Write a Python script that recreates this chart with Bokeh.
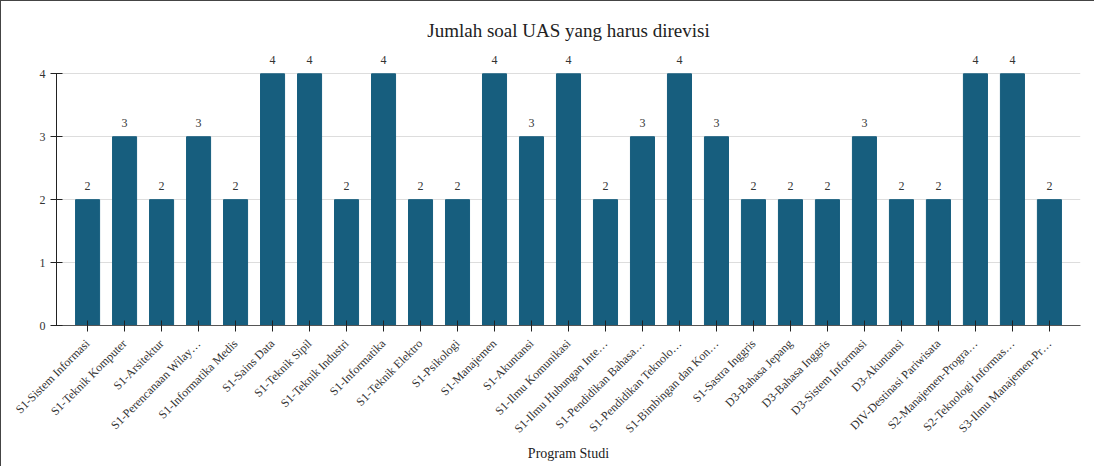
from math import pi
from bokeh.plotting import figure
from bokeh.models import ColumnDataSource, FactorRange, Range1d
from bokeh.core.properties import value
from bokeh.embed import file_html
from bokeh.resources import INLINE

programs = [
    "S1-Sistem Informasi", "S1-Teknik Komputer", "S1-Arsitektur", "S1-Perencanaan Wilay\u2026",
    "S1-Informatika Medis", "S1-Sains Data", "S1-Teknik Sipil", "S1-Teknik Industri",
    "S1-Informatika", "S1-Teknik Elektro", "S1-Psikologi", "S1-Manajemen",
    "S1-Akuntansi", "S1-Ilmu Komunikasi", "S1-Ilmu Hubungan Inte\u2026", "S1-Pendidikan Bahasa\u2026",
    "S1-Pendidikan Teknolo\u2026", "S1-Bimbingan dan Kon\u2026", "S1-Sastra Inggris", "D3-Bahasa Jepang",
    "D3-Bahasa Inggris", "D3-Sistem Informasi", "D3-Akuntansi", "DIV-Destinasi Pariwisata",
    "S2-Manajemen-Progra\u2026", "S2-Teknologi Informas\u2026", "S3-Ilmu Manajemen-Pr\u2026",
]
counts = [2, 3, 2, 3, 2, 4, 4, 2, 4, 2, 2, 4, 3, 4, 2, 3, 4, 3, 2, 2, 2, 3, 2, 2, 4, 4, 2]
y_ticks = [0, 1, 2, 3, 4]

FONT = "Liberation Serif"

src = ColumnDataSource(dict(x=programs, y=counts, t=[str(c) for c in counts]))

p = figure(
    width=1094, height=466,
    x_range=FactorRange(*programs, range_padding=0.34, range_padding_units="absolute"),
    y_range=Range1d(0, 4.45),
    output_backend="svg", toolbar_location=None,
    title="Jumlah soal UAS yang harus direvisi",
    min_border_left=55, min_border_right=15, min_border_bottom=142, min_border_top=44,
)
p.styles = {"border-top": "1px solid #444", "border-left": "1px solid #444"}

p.title.text_font = FONT
p.title.text_font_size = "19px"
p.title.text_font_style = "normal"
p.title.text_color = "#222222"
p.title.align = "center"

p.outline_line_color = None
p.xgrid.grid_line_color = None
p.ygrid.grid_line_color = "#dddddd"
p.ygrid.ticker = y_ticks

p.vbar(x="x", top="y", width=0.65, source=src, color="#175e7e")
p.text(x="x", y="y", text="t", source=src, text_align="center", text_baseline="alphabetic",
       y_offset=-14, text_font=value(FONT), text_font_size="12px", text_color="#333333")

p.yaxis.ticker = y_ticks
p.yaxis.bounds = (0, 4)
p.yaxis.axis_line_color = "#222222"
p.yaxis.major_tick_line_color = "#222222"
p.yaxis.major_tick_in = 6
p.yaxis.major_tick_out = 6
p.yaxis.minor_tick_line_color = None
p.xaxis.axis_line_color = "#555555"
p.xaxis.major_tick_line_color = "#222222"
p.xaxis.major_tick_in = 5
p.xaxis.major_tick_out = 6

for ax in (p.xaxis, p.yaxis):
    ax.major_label_text_font = FONT
    ax.major_label_text_font_size = "12px"
    ax.major_label_text_color = "#333333"
    ax.axis_label_text_font = FONT
    ax.axis_label_text_font_style = "normal"
    ax.axis_label_text_color = "#222222"

p.xaxis.major_label_orientation = pi / 4
p.xaxis.major_label_standoff = 10
p.xaxis.axis_label = "Program Studi"
p.xaxis.axis_label_text_font_size = "14px"
p.xaxis.axis_label_standoff = 3

open("out.html", "w").write(file_html(p, INLINE))
